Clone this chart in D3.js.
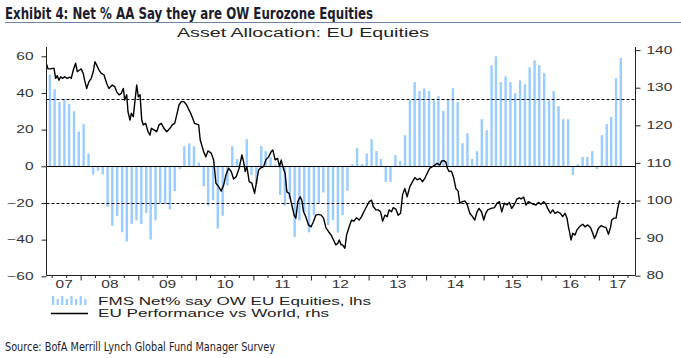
<!DOCTYPE html>
<html lang="en">
<head>
<meta charset="UTF-8">
<title>Net % AA Say they are OW Eurozone Equities</title>
<script src="https://cdn.jsdelivr.net/npm/d3@7"></script>
<style>
  body { margin: 0; background: #fff; }
  svg { display: block; font-family: "Liberation Sans", Arial, sans-serif; }
</style>
</head>
<body>
<svg id="chart" width="681" height="358"></svg>
<script>
// FMS net % overweight Eurozone equities, monthly, Jun 2007 .. May 2017 (lhs)
const fmsStart = [2007, 5];
const fmsNet = [
  50, 42, 35, 36.5, 34, 30, 19,                                   // 2007
  23, 7, -4.5, -2.5, -4.5, -22, -32.5, -27, -36, -41, -31.5, -29.5, // 2008
  -31.5, -25.5, -40, -29.5, -20.5, -20.5, -23.5, -13.5, -1.5, 11, 12.5, 11, // 2009
  2, -11, -21.5, -18.5, -34, -27, -10.5, 11, 4, 0, 14.8, -4.8,     // 2010
  -9.6, 11, 8.3, 5, 1, -15.6, -21.5, -18, -38.5, -29.5, -25, -36,  // 2011
  -26.7, -20, -14.3, -32, -29.3, -36.2, -26.6, -13.4, 1.2, 10, 1.2, 7, // 2012
  14.8, 8.3, 4, -8.5, -8.5, 6.1, 2.9, 17, 36, 46, 41, 42.5,        // 2013
  41, 36, 38.3, 30.2, 36.2, 42.6, 35, 12.6, 18, 4, 8.3, 25.7,      // 2014
  19.7, 55.1, 60, 45.9, 49.1, 45.9, 39.9, 46.9, 44.8, 54, 57.8, 55.1, // 2015
  50.8, 36, 41, 32.8, 25.7, 25.7, -4.7, 1.1, 5.1, 5.1, 8.3, -1.5,  // 2016
  17, 23, 26.9, 48, 59                                             // 2017
];

// EU performance vs World (rhs): decimal year, index
const perfYears = [
  2007.41, 2007.432, 2007.479, 2007.536, 2007.566, 2007.594, 2007.623, 2007.653, 2007.681, 2007.722,
  2007.767, 2007.814, 2007.837, 2007.872, 2007.913, 2007.941, 2007.983, 2008.010, 2008.045, 2008.069,
  2008.104, 2008.144, 2008.184, 2008.219, 2008.248, 2008.278, 2008.318, 2008.358, 2008.405, 2008.451,
  2008.491, 2008.549, 2008.590, 2008.625, 2008.665, 2008.705, 2008.740, 2008.764, 2008.799, 2008.821,
  2008.856, 2008.878, 2008.913, 2008.943, 2008.972, 2009.000, 2009.030, 2009.059, 2009.087, 2009.128,
  2009.168, 2009.203, 2009.226, 2009.273, 2009.319, 2009.359, 2009.399, 2009.446, 2009.493, 2009.550,
  2009.590, 2009.632, 2009.667, 2009.707, 2009.747, 2009.793, 2009.840, 2009.880, 2009.910, 2009.979,
  2010.049, 2010.076, 2010.135, 2010.175, 2010.210, 2010.267, 2010.309, 2010.349, 2010.396, 2010.441,
  2010.483, 2010.523, 2010.569, 2010.615, 2010.656, 2010.701, 2010.753, 2010.800, 2010.830, 2010.858,
  2010.887, 2010.927, 2010.974, 2011.021, 2011.061, 2011.090, 2011.130, 2011.177, 2011.217, 2011.264,
  2011.309, 2011.339, 2011.378, 2011.420, 2011.455, 2011.483, 2011.512, 2011.552, 2011.582, 2011.622,
  2011.668, 2011.708, 2011.738, 2011.773, 2011.813, 2011.842, 2011.872, 2011.911, 2011.958, 2012.003,
  2012.045, 2012.085, 2012.132, 2012.177, 2012.219, 2012.259, 2012.306, 2012.351, 2012.392, 2012.432,
  2012.467, 2012.490, 2012.524, 2012.549, 2012.589, 2012.618, 2012.663, 2012.705, 2012.745, 2012.792,
  2012.837, 2012.878, 2012.918, 2012.965, 2013.010, 2013.052, 2013.080, 2013.127, 2013.167, 2013.208,
  2013.243, 2013.283, 2013.323, 2013.357, 2013.399, 2013.426, 2013.474, 2013.514, 2013.556, 2013.590,
  2013.629, 2013.670, 2013.717, 2013.764, 2013.804, 2013.844, 2013.891, 2013.938, 2013.977, 2014.017,
  2014.064, 2014.111, 2014.151, 2014.191, 2014.238, 2014.267, 2014.307, 2014.342, 2014.365, 2014.399,
  2014.441, 2014.481, 2014.516, 2014.556, 2014.585, 2014.632, 2014.672, 2014.712, 2014.759, 2014.806,
  2014.845, 2014.885, 2014.920, 2014.962, 2015.002, 2015.036, 2015.071, 2015.128, 2015.188, 2015.233,
  2015.274, 2015.314, 2015.361, 2015.406, 2015.448, 2015.488, 2015.535, 2015.580, 2015.622, 2015.649,
  2015.696, 2015.736, 2015.778, 2015.823, 2015.870, 2015.910, 2015.951, 2015.996, 2016.043, 2016.083,
  2016.112, 2016.159, 2016.199, 2016.240, 2016.286, 2016.333, 2016.373, 2016.413, 2016.448, 2016.472,
  2016.490, 2016.517, 2016.547, 2016.586, 2016.621, 2016.663, 2016.720, 2016.760, 2016.807, 2016.854,
  2016.894, 2016.923, 2016.951, 2016.993, 2017.038, 2017.085, 2017.125, 2017.167, 2017.201, 2017.223,
  2017.259, 2017.299, 2017.328, 2017.357, 2017.374
];
const perfValues = [
  136.2, 135.0, 135.0, 135.2, 132.5, 133.2, 132.0, 132.9, 132.5, 132.9,
  132.5, 132.8, 132.5, 134.7, 136.5, 134.3, 134.7, 135.0, 133.8, 132.0,
  129.8, 131.6, 132.5, 134.3, 136.9, 136.0, 134.7, 133.8, 133.4, 131.2,
  129.8, 130.7, 130.3, 128.9, 128.1, 128.5, 129.8, 126.7, 128.1, 123.6,
  121.4, 123.2, 122.3, 126.7, 130.7, 127.6, 128.1, 121.4, 120.1, 120.5,
  118.3, 117.4, 119.2, 118.8, 118.3, 120.1, 120.5, 119.2, 118.3, 119.2,
  120.1, 120.5, 122.7, 125.4, 126.3, 126.3, 125.4, 124.1, 123.2, 120.5,
  120.1, 116.1, 113.0, 111.6, 113.2, 112.6, 110.8, 104.6, 103.7, 102.5,
  104.1, 106.8, 108.6, 107.7, 105.7, 106.3, 108.6, 112.1, 110.3, 107.7,
  109.0, 105.0, 104.6, 101.9, 105.5, 108.1, 108.7, 109.0, 110.8, 111.6,
  113.0, 113.4, 110.8, 111.2, 109.0, 110.8, 109.0, 107.2, 102.3, 101.9,
  98.8, 96.1, 95.3, 99.7, 101.0, 100.1, 97.0, 95.7, 93.5, 93.0,
  94.4, 96.1, 96.3, 96.1, 95.3, 92.8, 91.7, 90.8, 89.5, 88.2,
  88.6, 89.5, 88.2, 88.2, 87.3, 90.8, 93.0, 94.8, 94.5, 95.4,
  94.8, 95.7, 97.0, 98.4, 99.7, 100.1, 98.4, 97.5, 97.5, 97.0,
  94.5, 96.1, 95.7, 97.5, 97.0, 98.1, 97.7, 96.1, 96.6, 101.5,
  103.2, 101.0, 103.7, 105.0, 106.1, 105.5, 105.9, 105.0, 105.9, 107.2,
  108.6, 109.0, 109.4, 109.9, 109.4, 110.5, 110.6, 110.3, 108.7, 107.7,
  107.8, 105.9, 103.2, 102.5, 99.3, 99.7, 99.9, 99.0, 96.6, 95.7,
  94.8, 97.0, 97.9, 97.0, 94.8, 96.6, 97.5, 97.9, 98.1, 99.3,
  99.7, 97.0, 99.3, 98.8, 99.5, 97.9, 99.0, 100.4, 100.7, 100.4,
  100.9, 98.8, 99.7, 99.3, 99.0, 98.8, 99.5, 99.0, 99.7, 99.0,
  97.9, 96.6, 97.5, 96.6, 97.0, 96.6, 95.7, 96.6, 95.3, 93.0,
  91.7, 89.5, 91.3, 90.8, 92.2, 93.0, 93.7, 93.0, 93.5, 92.8,
  91.3, 89.9, 90.8, 92.6, 93.3, 93.0, 92.8, 91.0, 92.8, 94.8,
  95.3, 95.3, 97.9, 99.9, 99.5
];

const leftTicks = [-60, -40, -20, 0, 20, 40, 60];
const rightTicks = [80, 90, 100, 110, 120, 130, 140];
const yearLabels = ["07", "08", "09", "10", "11", "12", "13", "14", "15", "16", "17"];
const refLines = [36.5, -20];   // dashed guides, lhs units
const xRange = [2007.41, 2017.64];

const titleText = "Exhibit 4: Net % AA Say they are OW Eurozone Equities";
const subtitleText = "Asset Allocation: EU Equities";
const legendBars = "FMS Net% say OW EU Equities, lhs";
const legendLine = "EU Performance vs World, rhs";
const sourceText = "Source: BofA Merrill Lynch Global Fund Manager Survey";

const barColor = "#99ccff";
const axisColor = "#222";
const sx = 1.55; // the chart's text is stretched sideways

function decYear(d) {
  const y = Math.floor(d);
  const a = new Date(y, 0, 1), b = new Date(y + 1, 0, 1);
  return new Date(+a + (d - y) * (b - a));
}

const svg = d3.select("#chart");
svg.append("rect").attr("width", 681).attr("height", 358).attr("fill", "#fff");

const plotLeft = 46.5, plotRight = 635.5, plotTop = 47, plotBottom = 275.5;

const x = d3.scaleTime().domain(xRange.map(decYear)).range([plotLeft + 0.2, plotRight + 0.2]);
const yL = d3.scaleLinear().domain([-60, 60]).range([276.3, 56.3]);
const yR = d3.scaleLinear().domain([80, 140]).range([275.7, 50.1]);

// title block
svg.append("text")
  .attr("x", 5).attr("y", 18.5)
  .attr("textLength", 368).attr("lengthAdjust", "spacingAndGlyphs")
  .style("font-family", "'Liberation Sans Narrow', 'DejaVu Sans Condensed', sans-serif")
  .style("font-weight", "bold").style("font-size", "15px")
  .attr("fill", "#1c1c2c")
  .text(titleText);
svg.append("line")
  .attr("x1", 5).attr("x2", 681).attr("y1", 22.5).attr("y2", 22.5)
  .attr("stroke", "#6b83a6").attr("stroke-width", 1.2);
svg.append("text")
  .attr("x", 177).attr("y", 37)
  .attr("textLength", 252).attr("lengthAdjust", "spacingAndGlyphs")
  .style("font-size", "12.5px").attr("fill", "#222")
  .text(subtitleText);

// bars
const bars = fmsNet.map((v, i) => ({ date: new Date(fmsStart[0], fmsStart[1] + i, 20), value: v }));
svg.append("g").selectAll("rect")
  .data(bars)
  .join("rect")
  .attr("x", d => x(d.date) - 1.2)
  .attr("width", 2.4)
  .attr("y", d => yL(Math.max(0, d.value)))
  .attr("height", d => Math.abs(yL(d.value) - yL(0)))
  .attr("fill", barColor);

// reference lines
const y0 = Math.round(yL(0)) + 0.5;
svg.append("line")
  .attr("x1", plotLeft).attr("x2", plotRight).attr("y1", y0).attr("y2", y0)
  .attr("stroke", "#000").attr("stroke-width", 1);
svg.append("g").selectAll("line")
  .data(refLines)
  .join("line")
  .attr("x1", plotLeft).attr("x2", plotRight)
  .attr("y1", d => Math.round(yL(d)) + 0.5).attr("y2", d => Math.round(yL(d)) + 0.5)
  .attr("stroke", "#000").attr("stroke-width", 1).attr("stroke-dasharray", "3,2");

// performance line
const perf = perfYears.map((t, i) => ({ date: decYear(t), value: perfValues[i] }));
svg.append("path")
  .datum(perf)
  .attr("fill", "none")
  .attr("stroke", "#000")
  .attr("stroke-width", 1.4)
  .attr("stroke-linejoin", "round")
  .attr("d", d3.line().x(d => x(d.date)).y(d => yR(d.value)));

// axes
function styleAxis(g) {
  g.select(".domain").remove();
  g.selectAll("line").attr("stroke", axisColor);
  g.selectAll("text").style("font-size", "10px").style("font-family", "'Liberation Sans', Arial, sans-serif").attr("fill", "#333");
}

const gl = svg.append("g").attr("transform", `translate(${plotLeft},0)`)
  .call(d3.axisLeft(yL).tickValues(leftTicks).tickSize(5).tickPadding(8).tickSizeOuter(0))
  .call(styleAxis);
gl.selectAll("text").attr("x", -13 / sx).attr("transform", `scale(${sx},1)`);

const gr = svg.append("g").attr("transform", `translate(${plotRight},0)`)
  .call(d3.axisRight(yR).tickValues(rightTicks).tickSize(5).tickPadding(6).tickSizeOuter(0))
  .call(styleAxis);
gr.selectAll("text").attr("x", 11 / sx).attr("transform", `scale(${sx},1)`);

// quarter and year ticks along the bottom
const [d0, d1] = x.domain();
const quarters = d3.timeMonth.every(3).range(d0, d1).filter(d => d.getMonth() !== 0);
svg.append("g").attr("transform", `translate(0,${plotBottom})`)
  .call(d3.axisBottom(x).tickValues(quarters).tickSize(2.5).tickFormat("").tickSizeOuter(0))
  .call(styleAxis);
svg.append("g").attr("transform", `translate(0,${plotBottom})`)
  .call(d3.axisBottom(x).ticks(d3.timeYear).tickSize(5).tickFormat("").tickSizeOuter(0))
  .call(styleAxis);

// year labels sit in the middle of the visible part of each year
const labelDates = yearLabels.map((s, i) => {
  const y = 2007 + i;
  const a = Math.max(+new Date(y, 0, 1), +d0), b = Math.min(+new Date(y + 1, 0, 1), +d1);
  return new Date((a + b) / 2);
});
const gx = svg.append("g").attr("transform", `translate(0,${plotBottom})`)
  .call(d3.axisBottom(x).tickValues(labelDates).tickSize(0).tickPadding(5.5)
    .tickFormat((d, i) => yearLabels[i]))
  .call(styleAxis);
gx.selectAll("text").attr("transform", `scale(${sx},1)`);

// frame lines: left, right, bottom
const frame = svg.append("g").attr("stroke", axisColor).attr("stroke-width", 1);
frame.append("line").attr("x1", plotLeft).attr("x2", plotLeft).attr("y1", plotTop).attr("y2", plotBottom);
frame.append("line").attr("x1", plotRight).attr("x2", plotRight).attr("y1", plotTop).attr("y2", plotBottom);
frame.append("line").attr("x1", plotLeft).attr("x2", plotRight).attr("y1", plotBottom).attr("y2", plotBottom);

// legend
const lg = svg.append("g");
const iconHeights = [9, 6, 9, 6, 9, 6, 9, 6];
lg.selectAll("rect")
  .data(iconHeights)
  .join("rect")
  .attr("x", (d, i) => 52 + i * 4.6)
  .attr("y", d => 305 - d)
  .attr("width", 2.2)
  .attr("height", d => d)
  .attr("fill", barColor);
lg.append("line")
  .attr("x1", 51).attr("x2", 88).attr("y1", 313.5).attr("y2", 313.5)
  .attr("stroke", "#000").attr("stroke-width", 1.4);
lg.append("text")
  .attr("x", 98).attr("y", 305)
  .attr("textLength", 273).attr("lengthAdjust", "spacingAndGlyphs")
  .style("font-size", "11px").attr("fill", "#222")
  .text(legendBars);
lg.append("text")
  .attr("x", 98).attr("y", 316.5)
  .attr("textLength", 231).attr("lengthAdjust", "spacingAndGlyphs")
  .style("font-size", "11px").attr("fill", "#222")
  .text(legendLine);

// source
svg.append("text")
  .attr("x", 5).attr("y", 351)
  .attr("textLength", 270).attr("lengthAdjust", "spacingAndGlyphs")
  .style("font-family", "'Liberation Sans Narrow', 'DejaVu Sans Condensed', sans-serif")
  .style("font-size", "12px").attr("fill", "#1c1c2c")
  .text(sourceText);
</script>
</body>
</html>
